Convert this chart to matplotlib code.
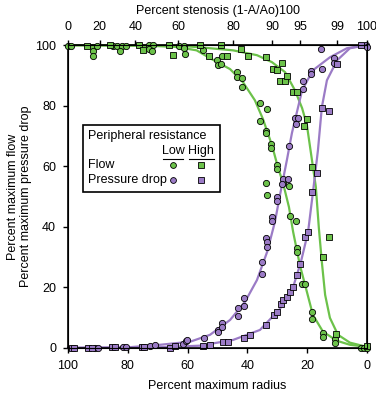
import numpy as np
import matplotlib.pyplot as plt
from matplotlib.patches import Rectangle

plt.rcParams["font.family"] = ["Liberation Sans", "DejaVu Sans"]
plt.rcParams["font.size"] = 9

GREEN = "#6cc24a"
PURPLE = "#9b7bc6"

# --- data (percent maximum radius, percent of max) ------------------------

flow_low_x = [100, 99.0, 91.6, 91.6, 91.6, 90.3, 84.9, 83.6, 82.0, 80.6, 82.6,
              72.9, 71.6, 72.9, 71.9, 62.9, 61.2, 61.2, 60.9, 54.8, 50.2, 48.5,
              49.8, 48.8, 43.5, 43.5, 41.8, 41.8, 35.8, 33.4, 35.8, 33.8, 33.8,
              32.1, 32.1, 30.1, 30.1, 33.8, 28.1, 33.4, 26.1, 25.8, 23.7, 23.4,
              23.4, 21.7, 20.7, 18.4, 18.4, 14.7, 14.7, 10.7, 10.7, 2.0, 1.0, 0]
flow_low_y = [99.7, 99.7, 99.3, 98.0, 96.4, 99.7, 99.8, 99.8, 99.8, 99.8, 98.0,
              100, 100, 98.7, 98.0, 99.7, 99.7, 99.0, 97.0, 98.3, 95.0, 96.4,
              93.4, 93.7, 91.1, 89.4, 89.1, 86.1, 80.9, 78.9, 74.9, 71.6, 71.0,
              67.3, 66.0, 60.4, 59.1, 54.5, 54.5, 50.5, 53.5, 43.6, 41.9, 33.0,
              31.7, 21.1, 21.1, 11.9, 9.6, 5.0, 3.6, 3.0, 1.7, 0, 0, 0]

flow_high_x = [93.6, 86.0, 76.3, 75.0, 66.2, 64.9, 55.9, 48.8, 52.8, 46.8, 42.1,
               39.8, 33.8, 31.4, 30.1, 28.4, 29.1, 27.4, 26.8, 24.7, 23.4, 20.1,
               21.1, 18.4, 12.7, 14.7, 10.4, 0]
flow_high_y = [99.7, 100, 100, 98.3, 100, 96.7, 100, 100, 96.4, 96.4, 98.7,
               96.4, 96.0, 92.1, 91.7, 94.1, 88.1, 88.1, 89.8, 84.5, 84.5, 75.6,
               73.3, 59.7, 36.6, 30.0, 4.6, 0.7]

press_low_x = [91.0, 90.0, 81.6, 80.6, 72.6, 70.9, 61.5, 60.5, 60.2, 54.5, 49.8,
               49.8, 48.5, 48.5, 43.1, 43.1, 41.1, 41.1, 35.1, 35.1, 33.8, 33.4,
               33.4, 31.8, 31.8, 30.1, 30.1, 28.1, 26.4, 28.4, 26.1, 24.1, 23.1,
               23.7, 21.4, 21.4, 18.7, 18.7, 15.4, 15.1, 11.0, 11.0, 0.3, 0]
press_low_y = [0, 0, 0.3, 0.3, 0.7, 1.0, 1.3, 2.3, 2.6, 3.3, 5.9,
               5.3, 8.3, 6.9, 13.2, 10.6, 16.5, 13.9, 28.4, 24.4, 36.3, 35.0,
               33.3, 43.2, 41.9, 49.8, 48.5, 55.8, 55.8, 54.1, 66.7, 75.9, 75.9,
               73.9, 88.1, 85.5, 91.4, 90.4, 98.7, 92.1, 95.7, 94.1, 100, 99.3]

press_high_x = [98.7, 98.0, 93.3, 92.0, 85.3, 84.3, 75.3, 74.6, 65.9, 64.2, 54.8,
                52.5, 48.2, 46.5, 41.1, 39.1, 33.8, 31.1, 30.1, 28.8, 28.1, 26.8,
                25.8, 24.7, 23.4, 22.4, 20.7, 19.7, 18.4, 16.7, 15.1, 12.7, 10.0,
                2.0]
press_high_y = [0, 0, 0, 0, 0.2, 0.2, 0.2, 0.2, 0, 0.5, 0.7,
                1.0, 2.0, 2.0, 3.3, 4.3, 7.6, 10.9, 11.9, 14.5, 15.8, 16.8,
                18.5, 20.1, 24.1, 27.7, 36.6, 38.3, 51.5, 57.8, 79.2, 78.2, 93.7,
                100]

# fitted curves
flow_low_cx = [100, 80, 70, 63.5, 57, 52.5, 45.8, 41.5, 37.5, 34.8, 31.8, 29.8,
               28.1, 26.1, 24.7, 22.4, 20.1, 18.1, 14.7, 10.0, 5.7, 0]
flow_low_cy = [100, 99.9, 99.7, 99.4, 98.3, 95.7, 92.1, 87.8, 81.8, 75.6, 67.0,
               59.7, 54.5, 46.5, 38.3, 27.1, 18.5, 10.9, 5.3, 2.3, 1.0, 0.3]

flow_high_cx = [100, 62.5, 55.9, 44.8, 36.8, 31.8, 27.4, 24.1, 21.7, 20.1, 18.4,
                17.1, 16.1, 15.1, 14.0, 12.4, 9.7, 5.7, 0]
flow_high_cy = [100, 99.8, 99.3, 98.3, 96.7, 94.4, 91.1, 85.1, 79.2, 73.6, 62.0,
                53.1, 39.6, 28.4, 17.5, 9.9, 4.3, 1.7, 0.3]

press_low_cx = [100, 79.3, 69.2, 59.2, 52.5, 45.8, 40.8, 36.8, 33.4, 30.8, 29.1,
                26.8, 25.1, 21.7, 18.1, 12.4, 6.7, 0]
press_low_cy = [0, 0.2, 1.0, 2.0, 4.3, 9.2, 15.2, 22.4, 31.7, 41.6, 50.5,
                62.0, 71.0, 85.1, 91.7, 96.0, 99.0, 100]

press_high_cx = [100, 75.9, 65.9, 55.9, 44.8, 35.8, 29.1, 24.7, 22.1, 19.7, 18.1,
                 16.4, 15.1, 13.4, 10.0, 5.7, 0]
press_high_cy = [0, 0, 0.3, 0.7, 2.6, 5.9, 12.9, 20.1, 28.4, 38.3, 51.2,
                 65.3, 79.5, 88.4, 95.0, 99.0, 100]

stenosis_ticks = [0, 20, 40, 60, 80, 90, 95, 99, 100]


def main() -> None:
    fig = plt.figure(figsize=(3.76, 3.93), dpi=100)
    ax = fig.add_axes([0.181, 0.115, 0.795, 0.770])

    for cx, cy, col in [(flow_low_cx, flow_low_cy, GREEN),
                        (flow_high_cx, flow_high_cy, GREEN),
                        (press_low_cx, press_low_cy, PURPLE),
                        (press_high_cx, press_high_cy, PURPLE)]:
        ax.plot(cx, cy, color=col, linewidth=1.6, zorder=2, clip_on=False)

    mk = dict(linestyle="none", markeredgecolor="black", markeredgewidth=0.6,
              zorder=3, clip_on=False)
    ax.plot(flow_low_x, flow_low_y, "o", color=GREEN, markersize=4.5, **mk)
    ax.plot(flow_high_x, flow_high_y, "s", color=GREEN, markersize=4.5, **mk)
    ax.plot(press_low_x, press_low_y, "o", color=PURPLE, markersize=4.5, **mk)
    ax.plot(press_high_x, press_high_y, "s", color=PURPLE, markersize=4.5, **mk)

    ax.set_xlim(100, 0)
    ax.set_ylim(0, 100)
    ax.set_xticks([100, 80, 60, 40, 20, 0])
    ax.set_yticks([0, 20, 40, 60, 80, 100])
    ax.tick_params(direction="out", length=3.6, width=1, labelsize=9, pad=5)
    for sp in ax.spines.values():
        sp.set_linewidth(1.2)
    ax.set_xlabel("Percent maximum radius", fontsize=9, labelpad=6)
    ax.set_ylabel("Percent maximum flow\nPercent maximum pressure drop",
                  fontsize=9, labelpad=2)

    # top axis: stenosis, r = 100*sqrt(1 - s/100)
    top = ax.twiny()
    top.set_xlim(100, 0)
    top.set_xticks([100 * np.sqrt(1 - s / 100) for s in stenosis_ticks])
    top.set_xticklabels([str(s) for s in stenosis_ticks])
    top.tick_params(direction="out", length=3.6, width=1, labelsize=9, pad=5)
    top.set_xlabel("Percent stenosis (1-A/Ao)100", fontsize=9, labelpad=5)

    # legend box drawn by hand
    ax.add_patch(Rectangle((0.050, 0.515), 0.458, 0.221, transform=ax.transAxes,
                           facecolor="white", edgecolor="black", linewidth=1.2,
                           zorder=4))
    tkw = dict(transform=ax.transAxes, fontsize=9, zorder=5, va="center")
    ax.text(0.067, 0.700, "Peripheral resistance", **tkw)
    ax.text(0.351, 0.652, "Low", ha="center", **tkw)
    ax.text(0.445, 0.652, "High", ha="center", **tkw)
    ax.plot([0.316, 0.386], [0.624, 0.624], color="black", lw=0.8,
            transform=ax.transAxes, zorder=5)
    ax.plot([0.405, 0.487], [0.624, 0.624], color="black", lw=0.8,
            transform=ax.transAxes, zorder=5)
    ax.text(0.067, 0.603, "Flow", **tkw)
    ax.text(0.067, 0.554, "Pressure drop", **tkw)
    lk = dict(transform=ax.transAxes, linestyle="none", markeredgecolor="black",
              markeredgewidth=0.6, markersize=4.2, zorder=5)
    ax.plot([0.351], [0.603], "o", color=GREEN, **lk)
    ax.plot([0.445], [0.603], "s", color=GREEN, **lk)
    ax.plot([0.351], [0.554], "o", color=PURPLE, **lk)
    ax.plot([0.445], [0.554], "s", color=PURPLE, **lk)

    fig.savefig("out.png", dpi=100)
    plt.close(fig)


if __name__ == "__main__":
    main()
